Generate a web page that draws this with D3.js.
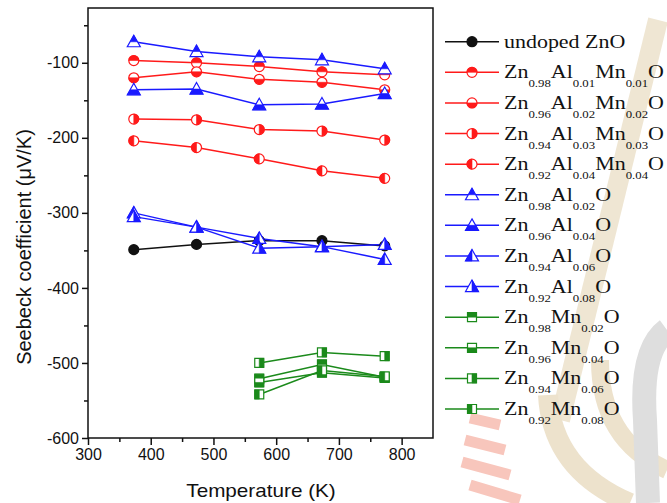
<!DOCTYPE html>
<html>
<head>
<meta charset="utf-8">
<script src="https://cdn.jsdelivr.net/npm/d3@7"></script>
<style>
  body { margin: 0; background: #fff; }
  svg { display: block; }
</style>
</head>
<body>
<div id="chart"></div>
<script>
// Data
var temps = [373, 473, 573, 673, 773];
var tempsMn = [573, 673, 773];

var undoped = [-349, -342, -337, -337, -344];
var alMn1 = [-97, -100, -105, -112, -116];
var alMn2 = [-120, -112, -122, -126, -136];
var alMn3 = [-175, -176, -189, -191, -203];
var alMn4 = [-204, -213, -228, -244, -254];
var al2 = [-72, -85, -92, -96, -108];
var al4 = [-136, -135, -156, -155, -141];
var al6 = [-300, -319, -334, -345, -362];
var al8 = [-305, -319, -347, -345, -342];
var mn2 = [-521, -502, -519];
var mn4 = [-526, -513, -520];
var mn6 = [-500, -486, -491];
var mn8 = [-542, -510, -518];

var xTicks = [300, 400, 500, 600, 700, 800];
var yTicks = [-600, -500, -400, -300, -200, -100];

var series = [
  { name: "undoped ZnO", x: temps, y: undoped, color: "#111", shape: "circle", half: "full" },
  { name: "Zn_0.98Al_0.01Mn_0.01O", x: temps, y: alMn1, color: "#ff1a1a", shape: "circle", half: "top" },
  { name: "Zn_0.96Al_0.02Mn_0.02O", x: temps, y: alMn2, color: "#ff1a1a", shape: "circle", half: "bottom" },
  { name: "Zn_0.94Al_0.03Mn_0.03O", x: temps, y: alMn3, color: "#ff1a1a", shape: "circle", half: "right" },
  { name: "Zn_0.92Al_0.04Mn_0.04O", x: temps, y: alMn4, color: "#ff1a1a", shape: "circle", half: "left" },
  { name: "Zn_0.98Al_0.02O", x: temps, y: al2, color: "#1a1aff", shape: "triangle", half: "top" },
  { name: "Zn_0.96Al_0.04O", x: temps, y: al4, color: "#1a1aff", shape: "triangle", half: "bottom" },
  { name: "Zn_0.94Al_0.06O", x: temps, y: al6, color: "#1a1aff", shape: "triangle", half: "left" },
  { name: "Zn_0.92Al_0.08O", x: temps, y: al8, color: "#1a1aff", shape: "triangle", half: "right" },
  { name: "Zn_0.98Mn_0.02O", x: tempsMn, y: mn2, color: "#1b8a1b", shape: "square", half: "top" },
  { name: "Zn_0.96Mn_0.04O", x: tempsMn, y: mn4, color: "#1b8a1b", shape: "square", half: "bottom" },
  { name: "Zn_0.94Mn_0.06O", x: tempsMn, y: mn6, color: "#1b8a1b", shape: "square", half: "right" },
  { name: "Zn_0.92Mn_0.08O", x: tempsMn, y: mn8, color: "#1b8a1b", shape: "square", half: "left" }
];

var width = 667, height = 503;
var plotLeft = 88, plotRight = 433, plotTop = 8, plotBottom = 438;

var svg = d3.select("#chart").append("svg")
  .attr("width", width)
  .attr("height", height);

// Watermark in the background
var wm = svg.append("g").attr("fill", "none");
wm.append("path")
  .attr("d", "M 658 20 L 560 420")
  .attr("stroke", "#efe6d3").attr("stroke-width", 20);
wm.append("path")
  .attr("d", "M 548 395 Q 552 470 630 503")
  .attr("stroke", "#ede2cc").attr("stroke-width", 20);
wm.append("path")
  .attr("d", "M 600 360 Q 600 440 667 470")
  .attr("stroke", "#ede2cc").attr("stroke-width", 18);
wm.append("path")
  .attr("d", "M 667 330 Q 640 350 645 420 L 648 503")
  .attr("stroke", "#dedede").attr("stroke-width", 24);
wm.append("path")
  .attr("d", "M 470 418 L 500 425 M 465 440 L 505 450 M 462 462 L 510 475 M 470 485 L 520 500")
  .attr("stroke", "#f8c6bc").attr("stroke-width", 11);

var x = d3.scaleLinear().domain([300, 850]).range([plotLeft, plotRight]);
var y = d3.scaleLinear().domain([-600, -27]).range([plotBottom, plotTop]);

// Frame
svg.append("rect")
  .attr("x", plotLeft).attr("y", plotTop)
  .attr("width", plotRight - plotLeft).attr("height", plotBottom - plotTop)
  .attr("fill", "none").attr("stroke", "#111").attr("stroke-width", 1.5);

// Axes (plain hyphen minus, like the original)
var fmt = function(d) { return String(d); };

svg.append("g")
  .attr("transform", "translate(0," + plotBottom + ")")
  .call(d3.axisBottom(x).tickValues(xTicks).tickSize(7).tickPadding(4).tickFormat(fmt));
svg.append("g")
  .attr("transform", "translate(0," + plotBottom + ")")
  .call(d3.axisBottom(x).tickValues([350, 450, 550, 650, 750]).tickSize(4).tickFormat(""));

svg.append("g")
  .attr("transform", "translate(" + plotLeft + ",0)")
  .call(d3.axisLeft(y).tickValues(yTicks).tickSize(6).tickPadding(3).tickFormat(fmt));
svg.append("g")
  .attr("transform", "translate(" + plotLeft + ",0)")
  .call(d3.axisLeft(y).tickValues([-550, -450, -350, -250, -150, -50]).tickSize(4).tickFormat(""));

svg.selectAll(".domain").remove();
svg.selectAll(".tick line").attr("stroke", "#111").attr("stroke-width", 1.5);
svg.selectAll(".tick text")
  .attr("font-family", "Liberation Sans, Arial, sans-serif")
  .attr("font-size", 16)
  .attr("fill", "#111");

svg.append("text")
  .attr("transform", "translate(261,497) scale(1.15,1)")
  .attr("text-anchor", "middle")
  .attr("font-family", "Liberation Sans, Arial, sans-serif")
  .attr("font-size", 18)
  .attr("fill", "#111")
  .text("Temperature (K)");

svg.append("text")
  .attr("transform", "translate(31,247) rotate(-90)")
  .attr("text-anchor", "middle")
  .attr("font-family", "Liberation Sans, Arial, sans-serif")
  .attr("font-size", 20)
  .attr("fill", "#111")
  .text("Seebeck coefficient (\u03bcV/K)");

// Markers: outline shape plus a filled half
var R = 5;
function shapePath(shape) {
  if (shape === "circle") return "M -5 0 A 5 5 0 1 0 5 0 A 5 5 0 1 0 -5 0 Z";
  if (shape === "triangle") return "M 0 -6.5 L 6.5 5 L -6.5 5 Z";
  return "M -4.5 -4.5 L 4.5 -4.5 L 4.5 4.5 L -4.5 4.5 Z";
}

function halfPath(shape, half) {
  if (shape === "circle") {
    if (half === "top") return "M -5 0 A 5 5 0 0 1 5 0 Z";
    if (half === "bottom") return "M -5 0 A 5 5 0 0 0 5 0 Z";
    if (half === "left") return "M 0 -5 A 5 5 0 0 0 0 5 Z";
    return "M 0 -5 A 5 5 0 0 1 0 5 Z";
  }
  if (shape === "triangle") {
    if (half === "top") return "M 0 -6.5 L 3.4 0 L -3.4 0 Z";
    if (half === "bottom") return "M -3.4 0 L 3.4 0 L 6.5 5 L -6.5 5 Z";
    if (half === "left") return "M 0 -6.5 L 0 5 L -6.5 5 Z";
    return "M 0 -6.5 L 6.5 5 L 0 5 Z";
  }
  if (half === "top") return "M -4.5 -4.5 L 4.5 -4.5 L 4.5 0 L -4.5 0 Z";
  if (half === "bottom") return "M -4.5 0 L 4.5 0 L 4.5 4.5 L -4.5 4.5 Z";
  if (half === "left") return "M -4.5 -4.5 L 0 -4.5 L 0 4.5 L -4.5 4.5 Z";
  return "M 0 -4.5 L 4.5 -4.5 L 4.5 4.5 L 0 4.5 Z";
}

function drawMarker(g, s) {
  g.append("path")
    .attr("d", shapePath(s.shape))
    .attr("fill", s.half === "full" ? s.color : "#fff")
    .attr("stroke", s.color)
    .attr("stroke-width", 1.2);
  if (s.half !== "full") {
    g.append("path")
      .attr("d", halfPath(s.shape, s.half))
      .attr("fill", s.color)
      .attr("stroke", s.color)
      .attr("stroke-width", 0.6);
  }
}

// Lines and markers
var line = d3.line()
  .x(function(d) { return x(d[0]); })
  .y(function(d) { return y(d[1]); });

series.forEach(function(s) {
  svg.append("path")
    .datum(d3.zip(s.x, s.y))
    .attr("d", line)
    .attr("fill", "none")
    .attr("stroke", s.color)
    .attr("stroke-width", 1.5);
});

series.forEach(function(s) {
  d3.zip(s.x, s.y).forEach(function(p) {
    var g = svg.append("g")
      .attr("transform", "translate(" + x(p[0]) + "," + y(p[1]) + ")");
    drawMarker(g, s);
  });
});

// Legend
var legendY = d3.scaleLinear().domain([0, 12]).range([41.7, 409]);

series.forEach(function(s, i) {
  var ly = legendY(i);
  svg.append("line")
    .attr("x1", 445).attr("x2", 499)
    .attr("y1", ly).attr("y2", ly)
    .attr("stroke", s.color)
    .attr("stroke-width", 1.5);
  var g = svg.append("g").attr("transform", "translate(472," + ly + ")");
  drawMarker(g, s);

  var txt = svg.append("text")
    .attr("transform", "translate(504," + (ly + 6) + ") scale(1.22,1)")
    .attr("font-family", "Liberation Serif, Times New Roman, serif")
    .attr("font-size", 18)
    .attr("fill", "#111");

  // "Zn_0.98Al_0.02O" -> Zn, sub 0.98, Al, sub 0.02, O
  var parts = s.name.split(/_([0-9.]+)/);
  var sub = false;
  parts.forEach(function(p, j) {
    if (p === "") return;
    var ts = txt.append("tspan").text(p);
    if (j % 2 === 1) {
      ts.attr("font-size", 10.5).attr("dy", 9);
      sub = true;
    } else if (sub) {
      ts.attr("dy", -9);
      sub = false;
    }
  });
});
</script>
</body>
</html>
